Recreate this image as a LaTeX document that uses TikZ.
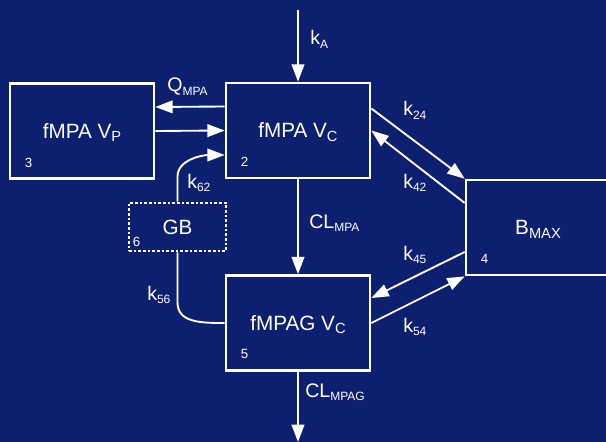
\documentclass[tikz,border=0pt]{standalone}
\usepackage{fontspec}
\setmainfont{Liberation Sans}
\usetikzlibrary{arrows.meta,calc}
\definecolor{navy}{RGB}{13,31,111}
\newcommand{\bsub}[1]{\raisebox{-2.5pt}{\fontsize{11}{12}\selectfont #1}}
\newcommand{\lsub}[1]{\raisebox{-2.5pt}{\fontsize{9}{10}\selectfont #1}}

\begin{document}
\begin{tikzpicture}[x=0.75pt,y=0.75pt,
      >={Triangle[length=13pt,width=9.5pt]},
      comp/.style={draw=white, line width=2pt, minimum width=108pt, minimum height=71.25pt, inner sep=0pt,
                   text=white, text height=11pt, text depth=0pt, font=\fontsize{15.5}{17}\selectfont},
      flow/.style={draw=white, line width=1.4pt},
      lab/.style={anchor=base west, inner sep=0pt, text=white, font=\fontsize{14.7}{16}\selectfont},
      num/.style={inner sep=0pt, text=white, font=\fontsize{10}{11}\selectfont}]
    \fill[navy] (0,0) rectangle (606,-442);
    \clip (0,0) rectangle (606,-442);
    % compartments
    \node[comp] (vc) at (298,-130.5) {fMPA V\bsub{C}};
    \node[comp] (vp) at (82,-131) {fMPA V\bsub{P}};
    \node[comp] (vg) at (298,-323) {fMPAG V\bsub{C}};
    \node[comp] (bmax) at (538,-227.5) {B\bsub{MAX}};
    \node[comp, minimum width=72.75pt, minimum height=36pt, dash pattern=on 2pt off 1.5pt] (gb) at (177.5,-227) {GB};
    \node[num] (n2) at ($(vc.south west)+(20,17)$) {2};
    \node[num] (n3) at ($(vp.south west)+(20,17)$) {3};
    \node[num] (n5) at ($(vg.south west)+(20,18)$) {5};
    \node[num] (n4) at ($(bmax.south west)+(20,17)$) {4};
    \node[num] (n6) at ($(gb.south west)+(9,10)$) {6};
    % flows
    \coordinate (dose) at (298,-10);
    \coordinate (out) at (298,-442);
    \draw[flow,->] (dose) -- (vc.north);
    \draw[flow,->] ($(vc.west)+(0,24)$) -- ($(vp.east)+(0,24)$);
    \draw[flow,->] (vp.east) -- (vc.west);
    \draw[flow,->] (gb.north) -- ++(0,25) .. controls +(0,18) and +(-20,0) .. ($(vc.west)+(0,-24.5)$);
    \draw[flow,->] (vc.south) -- (vg.north);
    \draw[flow] (gb.south) -- ++(0,-50) .. controls +(0,-20) and +(-25,0) .. (vg.west);
    \draw[flow,->] ($(vc.east)+(0,22)$) -- (bmax.north west);
    \draw[flow,->] ($(bmax.west)+(0,24.5)$) -- (vc.east);
    \draw[flow,->] ($(bmax.west)+(0,-24.5)$) -- ($(vg.east)+(0,25)$);
    \draw[flow,->] (vg.east) -- (bmax.south west);
    \draw[flow,->] (vg.south) -- (out);
    % rate labels
    \node[lab] (lka) at (310,-45) {k\lsub{A}};
    \node[lab] (lq) at (167,-92) {Q\lsub{MPA}};
    \node[lab] (l62) at (187,-188) {k\lsub{62}};
    \node[lab] (lcl) at (309,-228) {CL\lsub{MPA}};
    \node[lab] (l56) at (147,-300) {k\lsub{56}};
    \node[lab] (l24) at (403,-116) {k\lsub{24}};
    \node[lab] (l42) at (403,-188) {k\lsub{42}};
    \node[lab] (l45) at (403,-260) {k\lsub{45}};
    \node[lab] (l54) at (403,-332) {k\lsub{54}};
    \node[lab] (lclg) at (305,-397) {CL\lsub{MPAG}};
\end{tikzpicture}
\end{document}
